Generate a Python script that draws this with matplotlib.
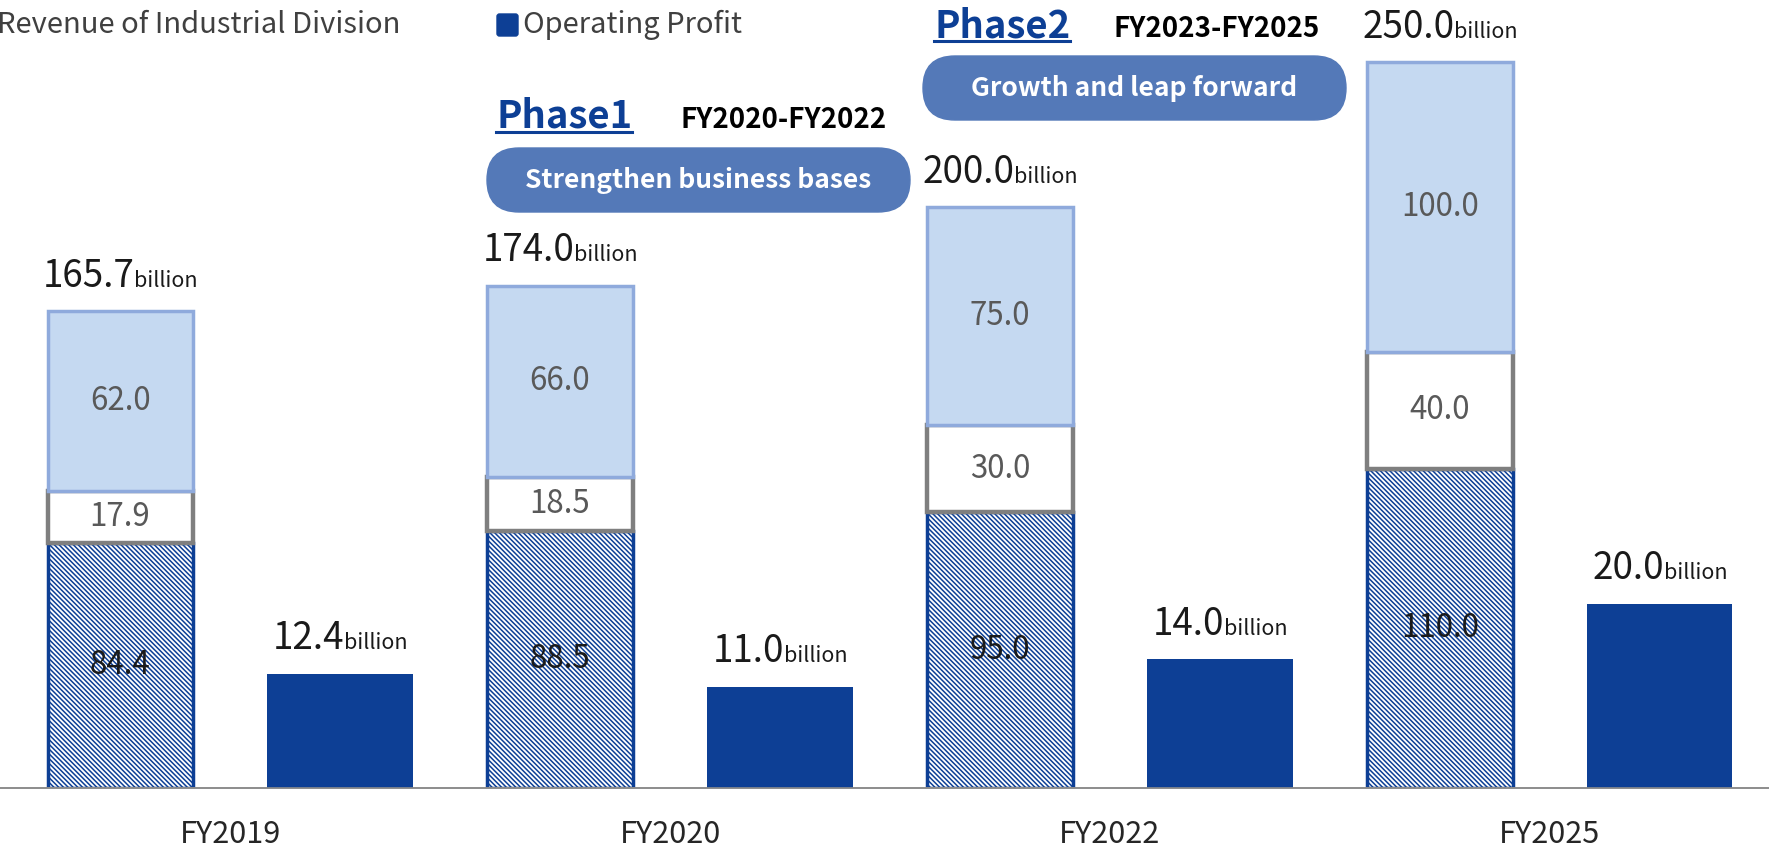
import numpy as np
import matplotlib.pyplot as plt
from matplotlib.patches import FancyBboxPatch
from matplotlib.lines import Line2D
from matplotlib.offsetbox import TextArea, HPacker, AnnotationBbox

plt.rcParams['font.family'] = ['Noto Sans CJK JP', 'DejaVu Sans']
plt.rcParams['hatch.linewidth'] = 1.1

years = ['FY2019', 'FY2020', 'FY2022', 'FY2025']
base_rev = [84.4, 88.5, 95.0, 110.0]
mid_rev = [17.9, 18.5, 30.0, 40.0]
top_rev = [62.0, 66.0, 75.0, 100.0]
total_rev = [165.7, 174.0, 200.0, 250.0]
op_profit = [12.4, 11.0, 14.0, 20.0]

BLUE = '#0D3F95'
LIGHT = '#C5D9F1'
LIGHT_EDGE = '#8FAADC'
GRAY = '#7F7F7F'
PILL = '#5479B8'

W, H = 1769, 849


def fpos(px, py):
    # pixel position from the top-left corner -> figure fraction
    return px / W, 1 - py / H


def value_label(ax, x, y, num, size=26.5):
    box = HPacker(children=[TextArea(f'{num:.1f}', textprops=dict(fontsize=size, color='#1a1a1a')),
                            TextArea('billion', textprops=dict(fontsize=15.5, color='#1a1a1a'))],
                  align='baseline', pad=0, sep=0)
    ab = AnnotationBbox(box, (x, y), xybox=(0, 11), xycoords='data', boxcoords='offset points',
                        box_alignment=(0.5, 0), frameon=False, pad=0)
    ax.add_artist(ab)


def main():
    fig = plt.figure(figsize=(W / 100, H / 100), dpi=100)
    ax = fig.add_axes([0, 61 / H, 1, 788 / H])
    ax2 = ax.twinx()

    x = np.arange(len(years))
    rev_x = x - 0.25
    op_x = x + 0.25
    width = 0.33

    base = np.array(base_rev)
    mid = np.array(mid_rev)
    top = np.array(top_rev)

    ax.bar(rev_x, base, width, color='white', edgecolor=BLUE, hatch='\\' * 7, linewidth=2.5)
    ax.bar(rev_x, mid, width, bottom=base, color='white', edgecolor=GRAY, linewidth=3.2)
    ax.bar(rev_x, top, width, bottom=base + mid, color=LIGHT, edgecolor=LIGHT_EDGE, linewidth=2.5)
    ax2.bar(op_x, op_profit, width, color=BLUE)

    for i in range(len(years)):
        ax.text(rev_x[i], base[i] / 2, f'{base[i]:.1f}', ha='center', va='center',
                fontsize=22.5, color='#1a1a1a')
        ax.text(rev_x[i], base[i] + mid[i] / 2, f'{mid[i]:.1f}', ha='center', va='center',
                fontsize=22.5, color='#595959')
        ax.text(rev_x[i], base[i] + mid[i] + top[i] / 2, f'{top[i]:.1f}', ha='center', va='center',
                fontsize=22.5, color='#595959')
        value_label(ax, rev_x[i], base[i] + mid[i] + top[i], total_rev[i])
        value_label(ax2, op_x[i], op_profit[i], op_profit[i])

    ax.set_xlim(-0.523, 3.498)
    ax.set_ylim(0, 271.3)
    ax2.set_ylim(0, 85.5)
    ax.set_xticks(x, years)
    ax.tick_params(axis='x', length=0, pad=22, labelsize=22, labelcolor='#262626')
    ax.set_yticks([])
    ax2.set_yticks([])
    for a in (ax, ax2):
        for side in ('top', 'left', 'right'):
            a.spines[side].set_visible(False)
        a.spines['bottom'].set_color('#8C8C8C')
        a.spines['bottom'].set_linewidth(1.2)

    # legend row
    fig.text(*fpos(-3, 25), 'Revenue of Industrial Division', fontsize=21, color='#404040',
             ha='left', va='center')
    fig.add_artist(FancyBboxPatch((4.97, (H - 36) / 100), 0.21, 0.22,
                                  boxstyle='round,pad=0,rounding_size=0.025',
                                  transform=fig.dpi_scale_trans, color=BLUE))
    fig.text(*fpos(523, 25), 'Operating Profit', fontsize=21, color='#404040',
             ha='left', va='center')

    # phase headers with pill boxes
    phases = [('Phase1', 'FY2020-FY2022', 'Strengthen business bases', 496, 128, 680, 487, 148),
              ('Phase2', 'FY2023-FY2025', 'Growth and leap forward', 934, 37, 1113, 923, 56)]
    titles = []
    for name, span, goal, px, py, sx, bx, by in phases:
        t = fig.text(*fpos(px, py), name, fontsize=27.5, fontweight='bold', color=BLUE,
                     ha='left', va='baseline')
        titles.append((t, py))
        fig.text(*fpos(sx, py), span, fontsize=20, fontweight='bold', color='black',
                 ha='left', va='baseline')
        fig.add_artist(FancyBboxPatch((bx / 100, (H - by - 64) / 100), 4.23, 0.64,
                                      boxstyle='round,pad=0,rounding_size=0.32',
                                      transform=fig.dpi_scale_trans, color=PILL))
        fig.text(*fpos(bx + 211, by + 32), goal, fontsize=19, fontweight='bold', color='white',
                 ha='center', va='center')

    fig.canvas.draw()
    for t, py in titles:
        bb = t.get_window_extent()
        yl = 1 - (py + 4) / H
        fig.add_artist(Line2D([bb.x0 / W, bb.x1 / W], [yl, yl], transform=fig.transFigure,
                              color=BLUE, linewidth=2.2))

    fig.savefig('out.png', dpi=100)


if __name__ == '__main__':
    main()
